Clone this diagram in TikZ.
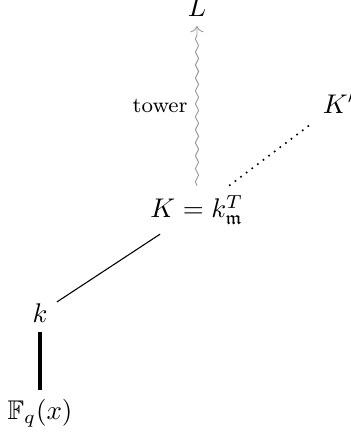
\documentclass[tikz,border=0pt]{standalone}
\usepackage{amsmath,amssymb}
\usepackage{tikz}
\usetikzlibrary{arrows.meta,decorations.pathmorphing}
\definecolor{ink}{HTML}{000000}
\definecolor{muted}{gray}{0.6}

\begin{document}
\begin{tikzpicture}
\useasboundingbox (0,0) rectangle (4.570,5.703);
\node (L) at (2.565,5.61) {$L$};
\node (Kp) at (4.414,4.362) {$K'$};
\node (K) at (2.565,2.97) {$K=k_{\mathfrak m}^{T}$};
\node (k) at (0.521,1.627) {$k$};
\node (Fq) at (0.521,0.325) {$\mathbb{F}_q(x)$};
\draw[->,muted,line width=.35pt,decorate,decoration={snake,amplitude=.6pt,segment length=4.8pt,post length=2pt}] (K) -- (L) node[midway,left,ink]{\footnotesize tower};
\draw[semithick,dotted] (K) -- (Kp);
\draw[ink] (k) -- (K);
\draw[very thick] (k) -- (Fq);
\end{tikzpicture}
\end{document}
